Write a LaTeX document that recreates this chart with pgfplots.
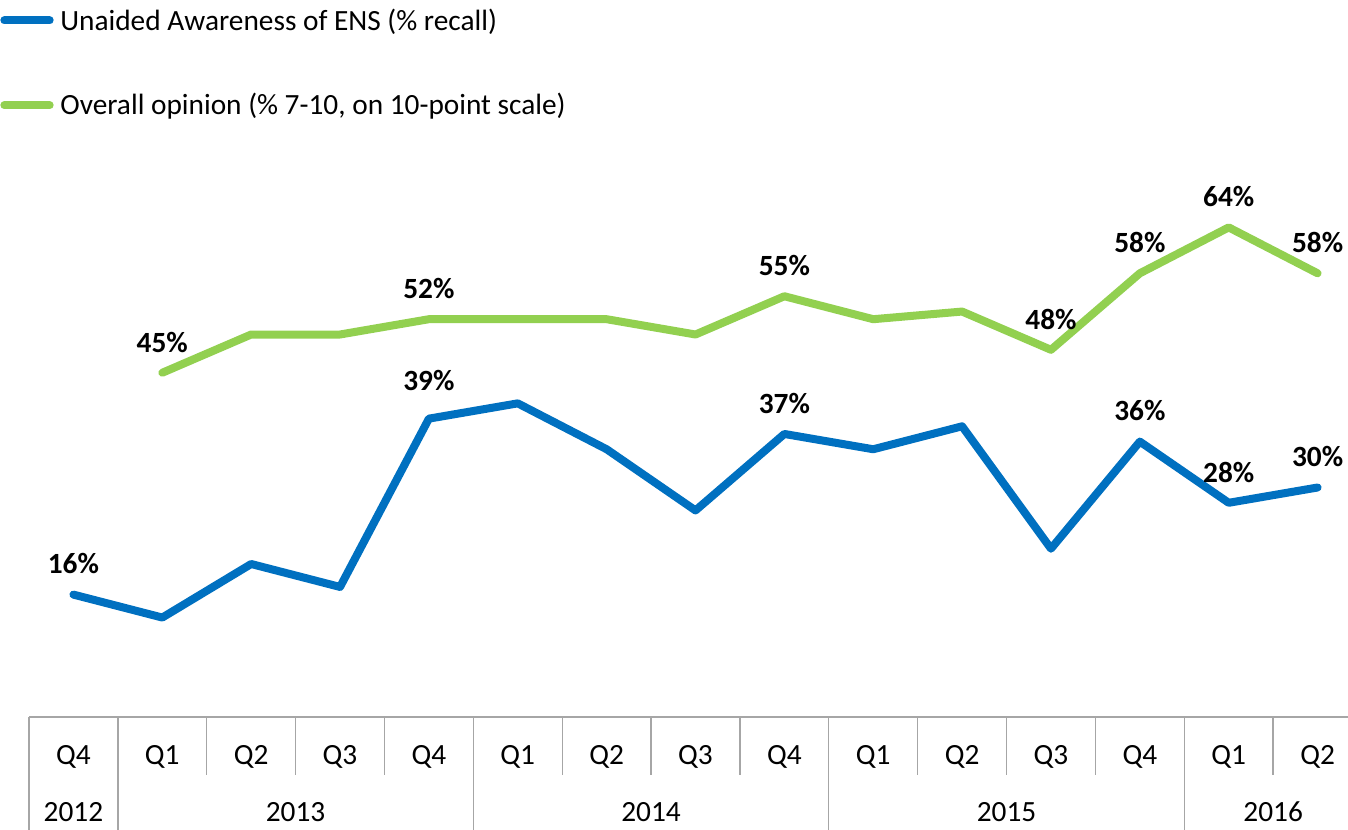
\documentclass[border=0pt]{standalone}
\usepackage{pgfplots}
\pgfplotsset{compat=1.18}
\usepackage{fontspec}
\setmainfont{Carlito}
\definecolor{eblue}{HTML}{0070C0}
\definecolor{egreen}{HTML}{92D050}
\definecolor{tgrid}{HTML}{A6A6A6}

\pgfplotstableread{
x aw
0 16
1 13
2 20
3 17
4 39
5 41
6 35
7 27
8 37
9 35
10 38
11 22
12 36
13 28
14 30
}\awareness

\pgfplotstableread{
x op
1 45
2 50
3 50
4 52
5 52
6 52
7 50
8 55
9 52
10 53
11 48
12 58
13 64
14 58
}\opinion

\begin{document}
\begin{tikzpicture}
\useasboundingbox (0,0) rectangle (1011pt,621.75pt);
\begin{axis}[
  at={(21.75pt,84pt)}, anchor=south west,
  scale only axis, width=999.75pt, height=401.625pt,
  xmin=-0.5, xmax=14.5, ymin=0, ymax=70,
  clip=false,
  /pgf/number format/assume math mode=true,
  axis line style={draw=none},
  xtick=\empty, ytick=\empty,
  font=\fontsize{22}{26}\selectfont,
  legend cell align=left,
  legend style={at={(-0.0215,1.3226)}, anchor=north west, draw=none, fill=none,
    inner sep=0pt, outer sep=0pt, nodes={inner sep=0pt, anchor=west},
    row sep=46pt, column sep=5pt, font=\fontsize{22}{26}\selectfont},
  legend image code/.code={\draw[line cap=round] (2pt,0pt) -- (36pt,0pt);},
]
\addplot[eblue, line width=6pt, line cap=round, line join=round] table[x=x,y=aw] {\awareness};
\addlegendentry{Unaided Awareness of ENS (\% recall)}
\addplot[egreen, line width=6pt, line cap=round, line join=round] table[x=x,y=op] {\opinion};
\addlegendentry{Overall opinion (\% 7-10, on 10-point scale)}

% data labels
\addplot[draw=none, forget plot, nodes near coords={\pgfmathprintnumber{\pgfplotspointmeta}\%},
  every node near coord/.append style={font=\bfseries\fontsize{22}{26}\selectfont, anchor=center, yshift=23pt}]
  coordinates {(0,16) (8,37) (12,36) (13,28) (14,30)};
\addplot[draw=none, forget plot, nodes near coords={\pgfmathprintnumber{\pgfplotspointmeta}\%},
  every node near coord/.append style={font=\bfseries\fontsize{22}{26}\selectfont, anchor=center, yshift=28.5pt}]
  coordinates {(4,39)};
\addplot[draw=none, forget plot, nodes near coords={\pgfmathprintnumber{\pgfplotspointmeta}\%},
  every node near coord/.append style={font=\bfseries\fontsize{22}{26}\selectfont, anchor=center, yshift=23pt}]
  coordinates {(1,45) (4,52) (8,55) (11,48) (12,58) (13,64) (14,58)};

% category table
\draw[tgrid, line width=1pt] (axis cs:-0.5,0) -- (axis cs:15,0);
\pgfplotsinvokeforeach{1.5,2.5,3.5,5.5,6.5,7.5,9.5,10.5,11.5,13.5}{
  \draw[tgrid, line width=1pt] (axis cs:#1,0) -- (axis cs:#1,-7.58);
}
\pgfplotsinvokeforeach{-0.5,0.5,4.5,8.5,12.5,14.5}{
  \draw[tgrid, line width=1pt] (axis cs:#1,0) -- (axis cs:#1,-16);
}
\node at (axis cs:0,-5.23) {Q4};
\node at (axis cs:1,-5.23) {Q1};
\node at (axis cs:2,-5.23) {Q2};
\node at (axis cs:3,-5.23) {Q3};
\node at (axis cs:4,-5.23) {Q4};
\node at (axis cs:5,-5.23) {Q1};
\node at (axis cs:6,-5.23) {Q2};
\node at (axis cs:7,-5.23) {Q3};
\node at (axis cs:8,-5.23) {Q4};
\node at (axis cs:9,-5.23) {Q1};
\node at (axis cs:10,-5.23) {Q2};
\node at (axis cs:11,-5.23) {Q3};
\node at (axis cs:12,-5.23) {Q4};
\node at (axis cs:13,-5.23) {Q1};
\node at (axis cs:14,-5.23) {Q2};
\node at (axis cs:0,-12.4) {2012};
\node at (axis cs:2.5,-12.4) {2013};
\node at (axis cs:6.5,-12.4) {2014};
\node at (axis cs:10.5,-12.4) {2015};
\node at (axis cs:13.5,-12.4) {2016};
\end{axis}
\end{tikzpicture}
\end{document}
